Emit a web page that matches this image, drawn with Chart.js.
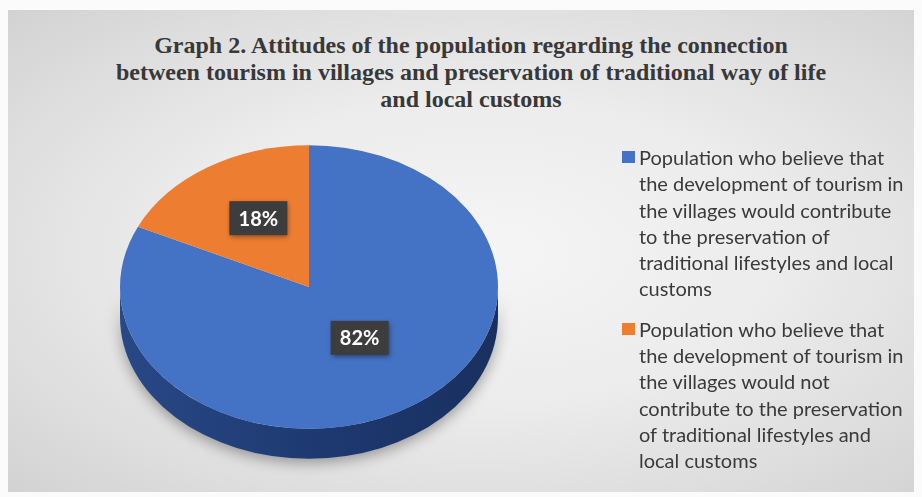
<!DOCTYPE html>
<html>
<head>
<meta charset="utf-8">
<script src="https://cdn.jsdelivr.net/npm/chart.js@4/dist/chart.umd.min.js"></script>
<style>
  html, body { margin: 0; padding: 0; background: #fbfbfb; }
  #wrap { position: relative; width: 922px; height: 497px; overflow: hidden; }
  #panel {
    position: absolute; left: 8px; top: 10px; width: 906px; height: 482px;
    background: radial-gradient(ellipse at 52% 50%, #f5f5f5 0%, #ececec 45%, #dcdcdc 80%, #d2d2d2 100%);
  }
  #title {
    position: absolute; left: 20px; top: 32px; width: 902px; text-align: center;
    font-family: 'Liberation Serif', 'Times New Roman', serif; font-weight: bold;
    font-size: 24px; line-height: 27px; color: #383838;
  }
  #chart { position: absolute; left: 0; top: 0; }
  #legend {
    position: absolute; left: 622px; top: 144px; width: 298px;
    font-family: Lato, 'Open Sans', sans-serif; font-size: 20px; line-height: 26.3px; color: #3a3a3a;
  }
  #legend .item { position: relative; padding-left: 17px; margin-bottom: 14px; white-space: nowrap; }
  #legend .box { position: absolute; left: 0; top: 7px; width: 13px; height: 12px; }
</style>
</head>
<body>
<div id="wrap">
  <div id="panel"></div>
  <div id="title">Graph 2. Attitudes of the population regarding the connection<br>between tourism in villages and preservation of traditional way of life<br>and local customs</div>
  <canvas id="chart" width="922" height="497"></canvas>
  <div id="legend"></div>
</div>
<script>
const categories = [
  ['Population who believe that', 'the development of tourism in', 'the villages would contribute',
   'to the preservation of', 'traditional lifestyles and local', 'customs'],
  ['Population who believe that', 'the development of tourism in', 'the villages would not',
   'contribute to the preservation', 'of traditional lifestyles and', 'local customs']
];
const shares = [82, 18];
const sliceColors = ['#4472c4', '#ed7d31'];

const tilt = 0.75;   // vertical squash of the pie
const depth = 30;    // thickness of the side

const pie3d = {
  id: 'pie3d',
  beforeDatasetsDraw(chart) {
    const ctx = chart.ctx;
    const arcs = chart.getDatasetMeta(0).data;
    if (!arcs.length) return;
    const cx = arcs[0].x, cy = arcs[0].y, r = arcs[0].outerRadius;
    ctx.save();
    // side wall, only the front half is visible
    arcs.forEach(arc => {
      let s = Math.max(arc.startAngle, 0), e = Math.min(arc.endAngle, Math.PI);
      if (e <= s) return;
      const g = ctx.createLinearGradient(cx - r, 0, cx + r, 0);
      const dark = arc.options.backgroundColor === sliceColors[0]
        ? ['#284886', '#1e3a72', '#19305f'] : ['#b85a1f', '#a34f1a', '#8c4416'];
      g.addColorStop(0, dark[0]); g.addColorStop(0.5, dark[1]); g.addColorStop(1, dark[2]);
      ctx.save();
      ctx.shadowColor = 'rgba(0,0,0,0.35)';
      ctx.shadowBlur = 14;
      ctx.shadowOffsetY = 4;
      ctx.beginPath();
      ctx.ellipse(cx, cy + depth, r, r * tilt, 0, s, e, false);
      ctx.ellipse(cx, cy, r, r * tilt, 0, e, s, true);
      ctx.closePath();
      ctx.fillStyle = g;
      ctx.fill();
      ctx.restore();
    });
    ctx.translate(cx, cy);
    ctx.scale(1, tilt);
    ctx.translate(-cx, -cy);
  },
  afterDatasetsDraw(chart) {
    const ctx = chart.ctx;
    ctx.restore();
    const arcs = chart.getDatasetMeta(0).data;
    const total = shares.reduce((a, b) => a + b, 0);
    ctx.save();
    ctx.font = 'bold 20px Lato, "Open Sans", sans-serif';
    ctx.textAlign = 'center';
    ctx.textBaseline = 'middle';
    arcs.forEach((arc, i) => {
      const p = arc.tooltipPosition();
      const x = p.x, y = arc.y + (p.y - arc.y) * tilt - 9;
      const txt = Math.round(shares[i] / total * 100) + '%';
      const w = 58, h = 34;
      ctx.save();
      ctx.shadowColor = 'rgba(0,0,0,0.45)';
      ctx.shadowBlur = 5;
      ctx.shadowOffsetX = 1;
      ctx.shadowOffsetY = 2;
      ctx.fillStyle = '#3d3d3d';
      ctx.fillRect(x - w / 2, y - h / 2, w, h);
      ctx.restore();
      ctx.fillStyle = '#ffffff';
      ctx.fillText(txt, x, y + 1);
    });
    ctx.restore();
  }
};

const htmlLegend = {
  id: 'htmlLegend',
  afterUpdate(chart) {
    const box = document.getElementById('legend');
    box.innerHTML = '';
    const items = chart.options.plugins.legend.labels.generateLabels(chart);
    items.forEach(item => {
      const div = document.createElement('div');
      div.className = 'item';
      const sw = document.createElement('span');
      sw.className = 'box';
      sw.style.background = item.fillStyle;
      div.appendChild(sw);
      const lines = Array.isArray(item.text) ? item.text : [item.text];
      lines.forEach((l, j) => {
        if (j) div.appendChild(document.createElement('br'));
        div.appendChild(document.createTextNode(l));
      });
      box.appendChild(div);
    });
  }
};

new Chart(document.getElementById('chart'), {
  type: 'pie',
  data: {
    labels: categories,
    datasets: [{
      data: shares,
      backgroundColor: sliceColors,
      borderWidth: 0,
      radius: 189,
      clip: false
    }]
  },
  options: {
    responsive: false,
    animation: false,
    layout: { padding: { left: 0, right: 304, top: 100, bottom: 23 } },
    plugins: {
      legend: { display: false },
      tooltip: { enabled: false }
    }
  },
  plugins: [pie3d, htmlLegend]
});
</script>
</body>
</html>
